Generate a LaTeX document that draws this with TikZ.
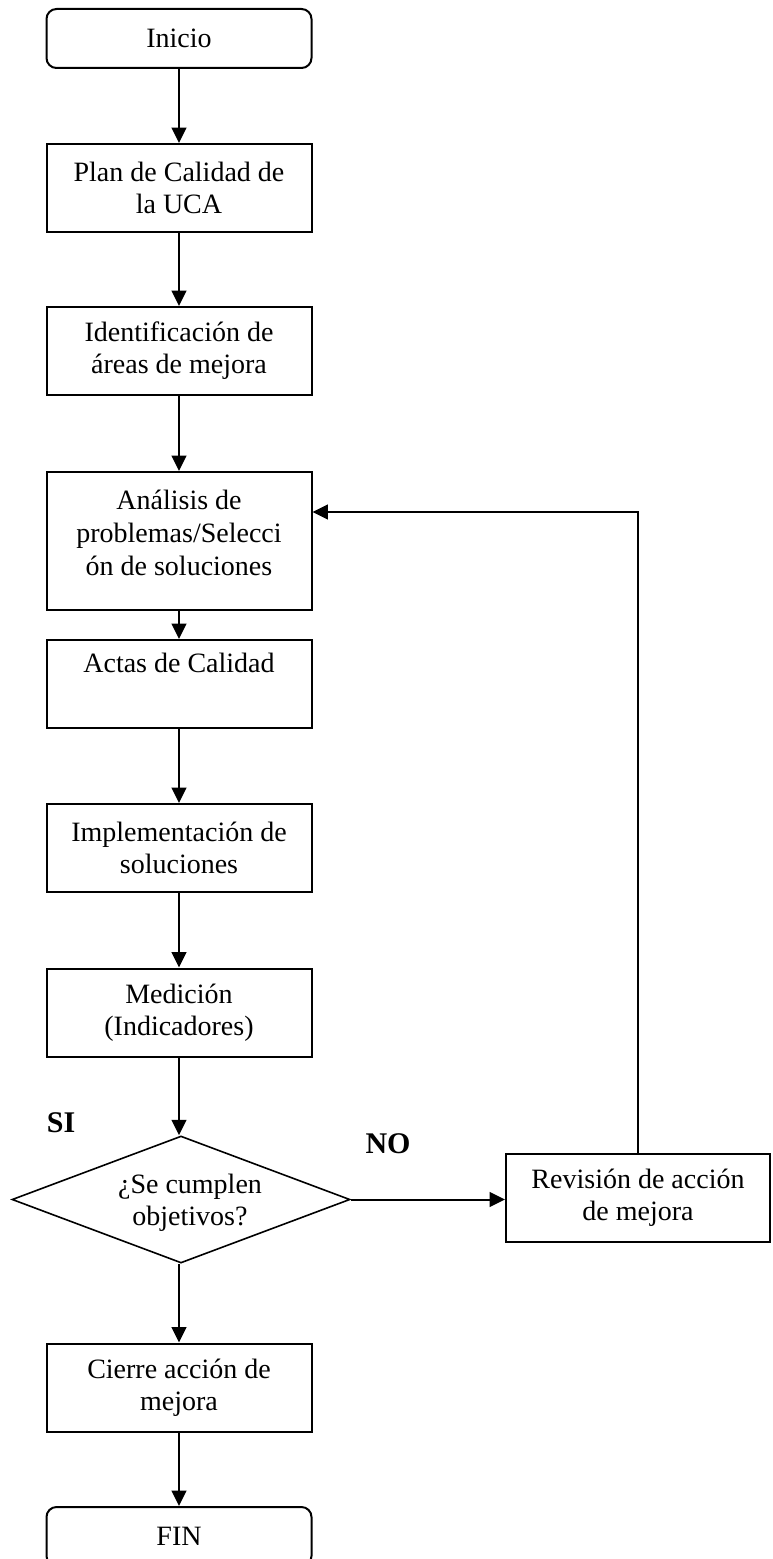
\documentclass[tikz,border=0pt]{standalone}
\usepackage{fontspec}
\setmainfont{Liberation Serif}
\usetikzlibrary{arrows.meta,shapes.geometric}

\begin{document}
\begin{tikzpicture}[x=0.75pt,y=-0.75pt,
  txt/.style={font=\fontsize{21}{24}\selectfont, align=center},
  box/.style={txt, draw, line width=1.5pt, inner sep=0pt,
    minimum width=265*0.75pt, minimum height=88*0.75pt},
  term/.style={box, rounded corners=7.5pt, minimum height=59*0.75pt},
  decision/.style={draw, line width=1.2pt, diamond, inner sep=0pt,
    minimum width=338*0.75pt, minimum height=127*0.75pt},
  arr/.style={line width=1.5pt, -{Triangle[length=11.5pt,width=11pt]}},
  lbl/.style={font=\fontsize{22.5}{26}\selectfont\bfseries}
]
\clip (0,0) rectangle (772,1559);
\fill[white] (0,0) rectangle (772,1559);

% main column
\node[term] (inicio) at (179,38.5) {Inicio};
\node[box]  (plan)   at (179,188)  {Plan de Calidad de\\la UCA};
\node[box]  (ident)  at (179,351)  {Identificación de\\áreas de mejora};
\node[box, minimum height=138*0.75pt] (anal) at (179,541) {};
\node[txt, font=\fontsize{21}{25}\selectfont] (analtxt) at (179,533) {Análisis de\\problemas/Selecci\\ón de soluciones};
\node[box]  (actas)  at (179,684)  {Actas de Calidad\\\strut};
\node[box]  (impl)   at (179,848)  {Implementación de\\soluciones};
\node[box]  (medic)  at (179,1012.5) {Medición\\(Indicadores)};
\node[decision] (dec) at (181,1199.5) {};
\node[txt]  (dectxt) at (190,1203) {¿Se cumplen\\objetivos?};
\node[box]  (cierre) at (179,1387.5) {Cierre acción de\\mejora};
\node[term] (fin)    at (179,1536.5) {FIN};

% review branch
\node[box, minimum width=264*0.75pt] (revis) at (638,1198) {Revisión de acción\\de mejora};
\coordinate (turn) at (638,512);

% labels
\node[lbl] (si) at (61,1123) {SI};
\node[lbl] (no) at (388,1144) {NO};

% connectors
\draw[arr] (inicio) -- (plan);
\draw[arr] (plan) -- (ident);
\draw[arr] (ident) -- (anal);
\draw[arr] (anal) -- (actas);
\draw[arr] (actas) -- (impl);
\draw[arr] (impl) -- (medic);
\draw[arr] (medic.south) -- (medic.south |- dec.north);
\draw[arr] (dec.south -| cierre.north) -- (cierre.north);
\draw[arr] (cierre) -- (fin);
\draw[arr] (dec.east) -- (dec.east -| revis.west);
\draw[arr] (revis.north) -- (turn) -- (anal.east |- turn);
\end{tikzpicture}
\end{document}
